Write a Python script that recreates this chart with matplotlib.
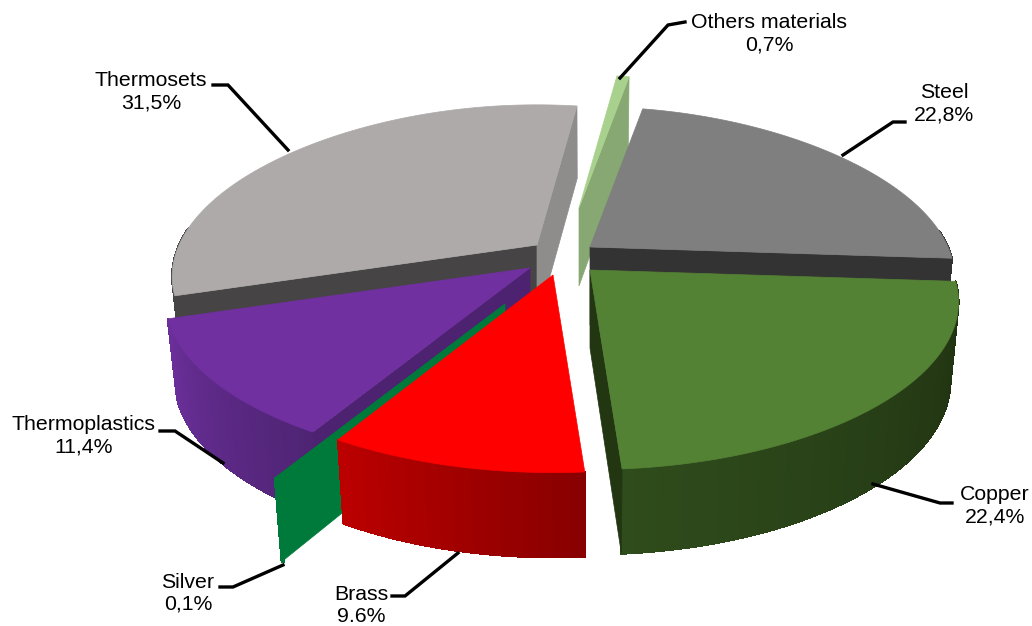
import numpy as np
import matplotlib
matplotlib.use("Agg")
import matplotlib.pyplot as plt
from matplotlib.collections import PolyCollection
from matplotlib.colors import to_rgb
from matplotlib.patches import Polygon

plt.rcParams["font.family"] = ["Liberation Sans", "DejaVu Sans"]

categories = ["Others materials", "Steel", "Copper", "Brass", "Silver", "Thermoplastics", "Thermosets"]
values = [0.7, 22.8, 22.4, 9.6, 0.1, 11.4, 31.5]
value_labels = ["0,7%", "22,8%", "22,4%", "9.6%", "0,1%", "11,4%", "31,5%"]

# slice styles: apex in pixels, top colour, wall colours (in angle order)
apex = {"Others materials": (579, 208), "Steel": (590, 247), "Copper": (590, 270), "Brass": (553, 275),
        "Silver": (505, 304), "Thermoplastics": (530, 268), "Thermosets": (537, 245)}
radius = {"Others materials": 0.95, "Steel": 1.0, "Copper": 1.01, "Brass": 1.0,
          "Silver": 1.06, "Thermoplastics": 1.0, "Thermosets": 1.0}
top_col = {"Others materials": "#a9d18e", "Steel": "#7f7f7f", "Copper": "#548235", "Brass": "#ff0000",
           "Silver": "#007a3a", "Thermoplastics": "#7030a0", "Thermosets": "#aeaaaa"}
wall_col = {"Others materials": ("#87a872", "#87a872"), "Steel": ("#333333", "#333333"),
            "Copper": ("#1f3010", "#2f4c1c"), "Brass": ("#880000", "#bb0000"),
            "Silver": ("#007a3a", "#007a3a"), "Thermoplastics": ("#4f2474", "#6b2f9a"),
            "Thermosets": ("#464444", "#464444")}
# cut faces that can be seen: "start" / "end" side and colour
faces = {"Others materials": [("end", "#87a872")], "Steel": [("end", "#333333")],
         "Copper": [("end", "#223612")], "Brass": [], "Silver": [("end", "#007a3a")],
         "Thermoplastics": [("start", "#4d2270")],
         "Thermosets": [("start", "#464444"), ("end", "#8f8d8b")]}
draw_order = ["Thermosets", "Others materials", "Steel", "Thermoplastics", "Silver", "Brass", "Copper"]

leaders = {"Others materials": [(685, 22), (668, 25), (620, 78)],
           "Steel": [(905, 122), (893, 122), (843, 155)],
           "Copper": [(952, 503), (940, 503), (873, 484)],
           "Brass": [(392, 596), (405, 596), (458, 553)],
           "Silver": [(220, 587), (233, 587), (283, 565)],
           "Thermoplastics": [(160, 431), (175, 431), (223, 463)],
           "Thermosets": [(213, 85), (228, 85), (288, 150)]}
label_pos = {"Others materials": (769, 34), "Steel": (944, 104), "Copper": (995, 506), "Brass": (361, 606),
             "Silver": (188, 593), "Thermoplastics": (84, 436), "Thermosets": (151, 92)}

start_angle = 8.0
rx, ry, persp_x, persp_y, depth = 358, 164, 0.2, 0.17, 78
vanish_x = 590


def project(name, a, drop=False):
    a = np.radians(a)
    x, y = np.sin(a), np.cos(a)
    cx, cy = apex[name]
    px = cx + radius[name] * rx * x * (1 - persp_x * y)
    py = cy - radius[name] * ry * y / (1 + persp_y * y)
    if drop:
        # walls lean slightly towards the vanishing point
        px = vanish_x + (px - vanish_x) * 0.978
        py = py + depth / (1 + 0.08 * y)
    return px, py


fig = plt.figure(figsize=(10.32, 6.26), dpi=100)
ax = fig.add_axes([0, 0, 1, 1])
ax.set_xlim(0, 1032)
ax.set_ylim(626, 0)
ax.axis("off")

total = sum(values)
edges = start_angle + np.concatenate([[0], np.cumsum(values)]) / total * 360
spans = {c: (edges[i], edges[i + 1]) for i, c in enumerate(categories)}

for name in draw_order:
    a0, a1 = spans[name]
    ang = np.linspace(a0, a1, max(int((a1 - a0) * 2), 2) + 1)
    # outer wall, shaded along the arc, back part stays hidden
    quads, cols = [], []
    c0, c1 = np.array(to_rgb(wall_col[name][0])), np.array(to_rgb(wall_col[name][1]))
    for i in range(len(ang) - 1):
        if np.cos(np.radians(ang[i])) > 0.1:
            continue
        p = [project(name, ang[i]), project(name, ang[i + 1]),
             project(name, ang[i + 1], True), project(name, ang[i], True)]
        quads.append(p)
        cols.append(c0 + (c1 - c0) * i / max(len(ang) - 2, 1))
    ax.add_collection(PolyCollection(quads, facecolors=cols, edgecolors=cols, linewidths=0.8, antialiaseds=False))
    # cut faces
    for side, col in faces[name]:
        a = a0 if side == "start" else a1
        ax.add_patch(Polygon([apex[name], project(name, a), project(name, a, True),
                              (apex[name][0], apex[name][1] + depth)], fc=col, ec=col, lw=0.5))
    # top
    pts = [apex[name]] + [project(name, t) for t in ang]
    ax.add_patch(Polygon(pts, fc=top_col[name], ec=top_col[name], lw=0.5))

for i, name in enumerate(categories):
    xs, ys = zip(*leaders[name])
    ax.plot(xs, ys, color="black", lw=2.4, solid_joinstyle="miter")
    ax.text(*label_pos[name], name + "\n" + value_labels[i], ha="center", va="center",
            fontsize=15.3, linespacing=1.2, color="black")

fig.savefig("out.png", dpi=100)
